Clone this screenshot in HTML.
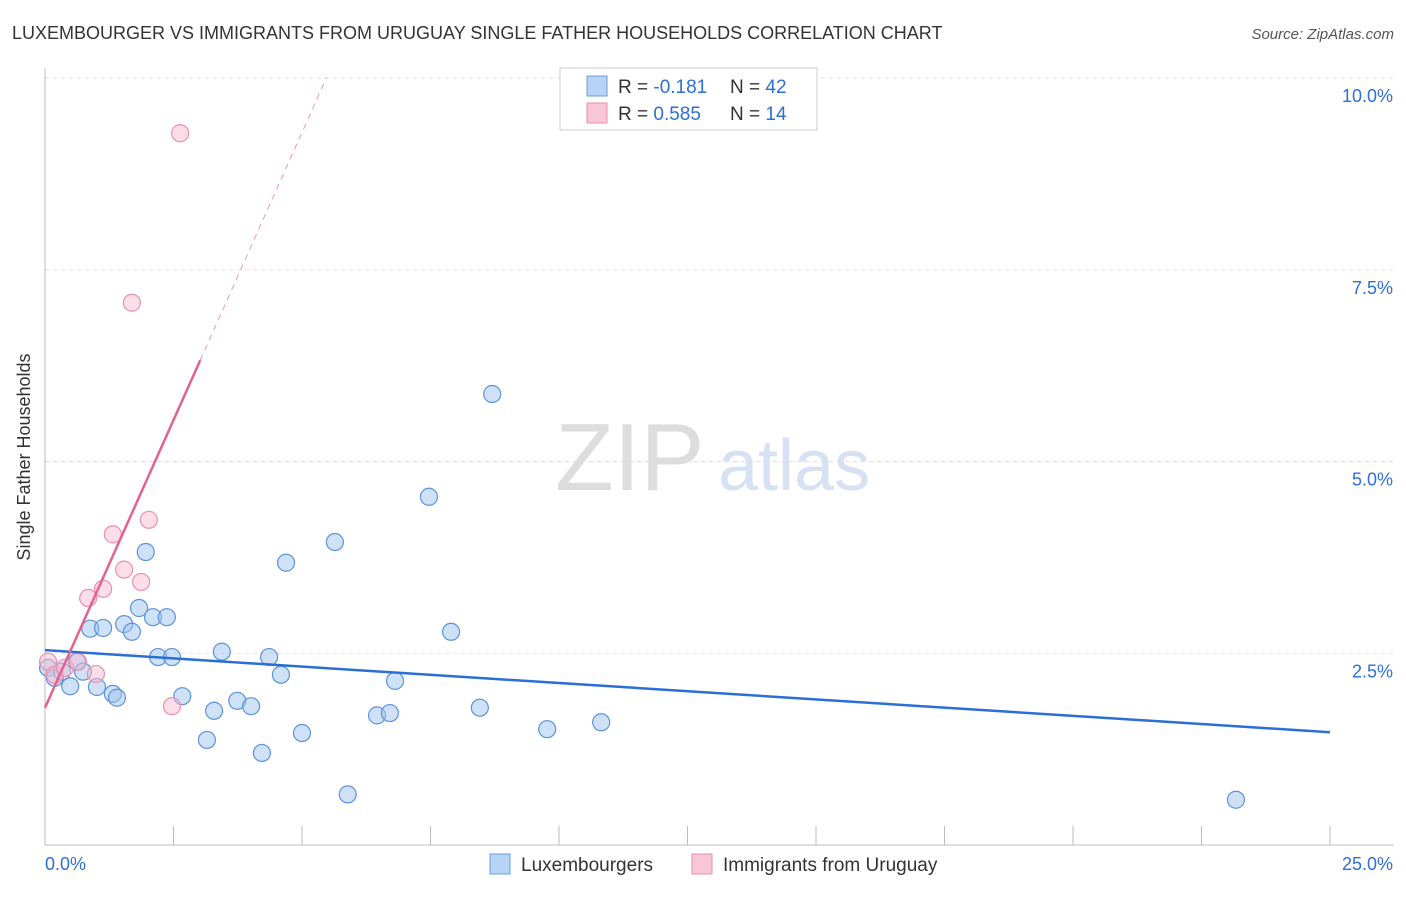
<!DOCTYPE html>
<html><head><meta charset="utf-8"><style>
body{margin:0;background:#fff;font-family:"Liberation Sans",sans-serif}
svg text{font-family:"Liberation Sans",sans-serif}
</style></head><body>
<svg id="c" width="1406" height="892" xmlns="http://www.w3.org/2000/svg">
<text x="12" y="39" font-size="18" fill="#333">LUXEMBOURGER VS IMMIGRANTS FROM URUGUAY SINGLE FATHER HOUSEHOLDS CORRELATION CHART</text>
<text x="1394" y="39" font-size="15" fill="#555" font-style="italic" text-anchor="end">Source: ZipAtlas.com</text>
<text x="30" y="457" font-size="18" fill="#333" text-anchor="middle" transform="rotate(-90 30 457)">Single Father Households</text>
<text x="555" y="490" font-size="96" fill="#ddd" font-family="Liberation Serif">ZIP</text>
<text x="718" y="490" font-size="72" fill="#d6e2f3">atlas</text>
<g id="grid"></g><g id="marks"></g>
<g>
<rect x="560" y="68" width="257" height="62" fill="#fff" stroke="#ccc"/>
<rect x="587" y="76" width="20" height="20" fill="#b7d3f5" stroke="#6a9ee0"/>
<rect x="587" y="103" width="20" height="20" fill="#f8c6d6" stroke="#ea8fad"/>
<text x="618" y="93" font-size="19" fill="#333">R = <tspan fill="#2d6fd6">-0.181</tspan><tspan x="730">N = </tspan><tspan fill="#2d6fd6">42</tspan></text>
<text x="618" y="120" font-size="19" fill="#333">R = <tspan fill="#2d6fd6">0.585</tspan><tspan x="730">N = </tspan><tspan fill="#2d6fd6"> 14</tspan></text>
</g>
<g>
<rect x="490" y="854" width="20" height="20" fill="#b7d3f5" stroke="#6a9ee0"/>
<text x="521" y="871" font-size="19" fill="#333">Luxembourgers</text>
<rect x="692" y="854" width="20" height="20" fill="#f8c6d6" stroke="#ea8fad"/>
<text x="723" y="871" font-size="19" fill="#333">Immigrants from Uruguay</text>
</g>
</svg>
<script>
const yTicks=[2.5,5,7.5,10];
const yTickLabels=["2.5%","5.0%","7.5%","10.0%"];
const xTicks=[0,2.5,5,7.5,10,12.5,15,17.5,20,22.5,25];
const luxX=[0.06,0.19,0.33,0.49,0.62,0.74,0.88,1.01,1.13,1.32,1.40,1.54,1.69,1.83,1.96,2.10,2.20,2.37,2.47,2.67,3.15,3.29,3.44,3.74,4.01,4.22,4.36,4.59,4.69,5.00,5.64,5.89,6.46,6.71,6.81,7.47,7.90,8.46,8.70,9.77,10.82,23.17];
const luxY=[2.31,2.18,2.26,2.07,2.39,2.26,2.82,2.06,2.83,1.97,1.92,2.88,2.78,3.09,3.82,2.97,2.45,2.97,2.45,1.94,1.37,1.75,2.52,1.88,1.81,1.20,2.45,2.22,3.68,1.46,3.95,0.66,1.69,1.72,2.14,4.54,2.78,1.79,5.88,1.51,1.60,0.59];
const uruX=[0.06,0.19,0.39,0.64,0.84,0.99,1.13,1.32,1.54,1.87,2.02,2.47,1.69,2.63];
const uruY=[2.39,2.22,2.31,2.39,3.22,2.23,3.34,4.05,3.59,3.43,4.24,1.81,7.07,9.28];
const luxTrend=[2.54,1.47];
const uruTrend=[1.79,1.5];
const NS="http://www.w3.org/2000/svg";
const sx=v=>45+v*51.4, sy=v=>845-v*76.7;
function mk(t,a,p){const e=document.createElementNS(NS,t);for(const k in a)e.setAttribute(k,a[k]);p.appendChild(e);return e;}
const g=document.getElementById('grid'),m=document.getElementById('marks');
yTicks.forEach((t,i)=>{
 const l=mk('line',{x1:45,x2:1394,y1:sy(t),y2:sy(t),stroke:'#ddd','stroke-dasharray':'4,4'},g);
 
 
 const tx=mk('text',{x:1393,y:sy(t)+24,'font-size':18,fill:'#2d6fd6','text-anchor':'end'},g);
 tx.textContent=yTickLabels[i];
 
 
});
const ax=mk('line',{x1:45,x2:45,y1:68,y2:845,stroke:'#bbb'},g);


const bx=mk('line',{x1:45,x2:1394,y1:845,y2:845,stroke:'#bbb'},g);


xTicks.forEach(t=>{
 const l=mk('line',{x1:sx(t),x2:sx(t),y1:826,y2:845,stroke:'#bbb'},g);
 
 
});
const t0=mk('text',{x:45,y:870,'font-size':18,fill:'#2d6fd6'},g);t0.textContent="0.0%";


const t1=mk('text',{x:1393,y:870,'font-size':18,fill:'#2d6fd6','text-anchor':'end'},g);t1.textContent="25.0%";


luxX.forEach((x,i)=>{
 const c=mk('circle',{cx:sx(x),cy:sy(luxY[i]),r:8.5,fill:'rgba(160,196,240,0.5)',stroke:'#5b93dc','stroke-width':1.2},m);
 
 
});
uruX.forEach((x,i)=>{
 const c=mk('circle',{cx:sx(x),cy:sy(uruY[i]),r:8.5,fill:'rgba(248,190,210,0.5)',stroke:'#ea8fad','stroke-width':1.2},m);
 
 
});
const lt=mk('line',{x1:sx(0),y1:sy(luxTrend[0]),x2:sx(25),y2:sy(luxTrend[1]),stroke:'#2a6fd6','stroke-width':2.5},m);


const xe=3.02, xd=(10-uruTrend[0])/uruTrend[1];
const ut=mk('line',{x1:sx(0),y1:sy(uruTrend[0]),x2:sx(xe),y2:sy(uruTrend[0]+uruTrend[1]*xe),stroke:'#e4628f','stroke-width':2.5},m);


const ud=mk('line',{x1:sx(xe),y1:sy(uruTrend[0]+uruTrend[1]*xe),x2:sx(xd),y2:sy(10),stroke:'#e99ab5','stroke-width':1,'stroke-dasharray':'6,5'},m);


</script>
</body></html>
